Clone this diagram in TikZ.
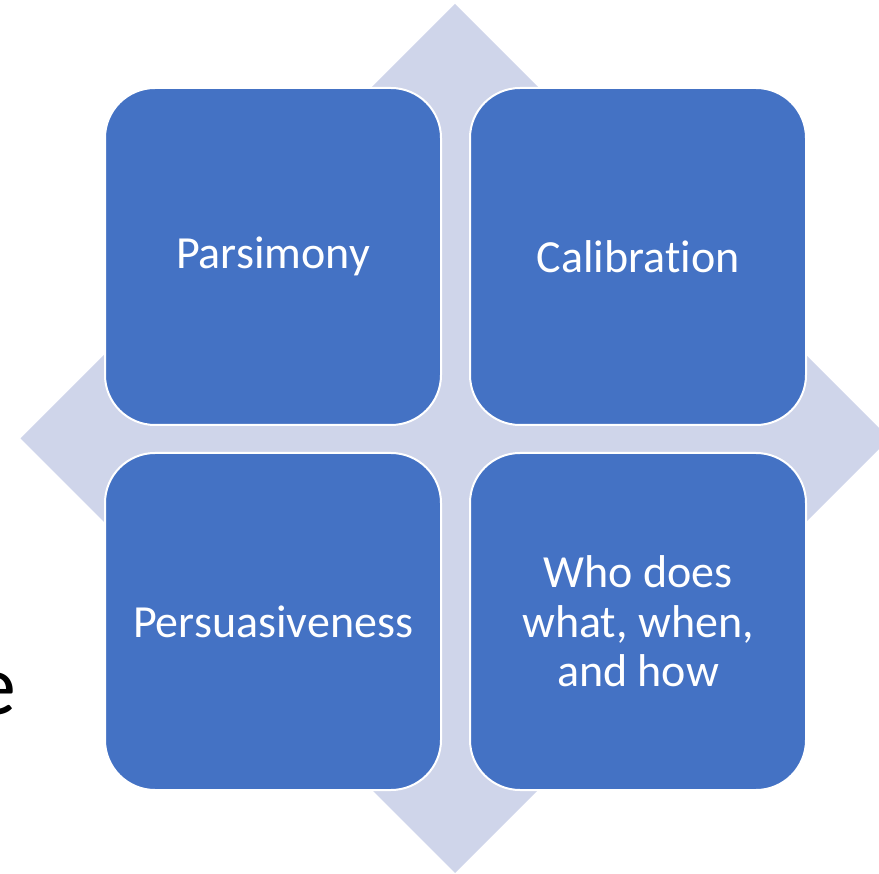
\documentclass[tikz,border=0pt]{standalone}
\usepackage{fontspec}
\setmainfont[Ligatures=NoCommon]{Carlito}
\definecolor{boxblue}{HTML}{4472C4}
\definecolor{diamfill}{HTML}{CFD5EA}
\begin{document}
\begin{tikzpicture}[x=1pt,y=-1pt,
  quad/.style={draw=white, line width=2pt, fill=boxblue, rounded corners=50pt,
    minimum width=336pt, minimum height=337pt, text=white,
    font=\fontsize{46}{49.5}\selectfont, align=center, inner sep=0pt}]
\useasboundingbox (0,0) rectangle (879,874);
\clip (0,0) rectangle (879,874);
\fill[diamfill] (455,4) -- (889.5,438.5) -- (455,873) -- (20.5,438.5) -- cycle;
\node[quad] (pars) at (273,256.5) {Parsimony};
\node[quad] (cal) at (638,256.5) {Calibration};
\node[quad] (pers) at (273,621.5) {Persuasiveness};
\node[quad] (who) at (638,621.5) {Who does\\what, when,\\and how};
\node[anchor=base west, inner sep=0pt, font=\fontsize{86}{90}\selectfont] (e) at (-27,714) {e};
\end{tikzpicture}
\end{document}
